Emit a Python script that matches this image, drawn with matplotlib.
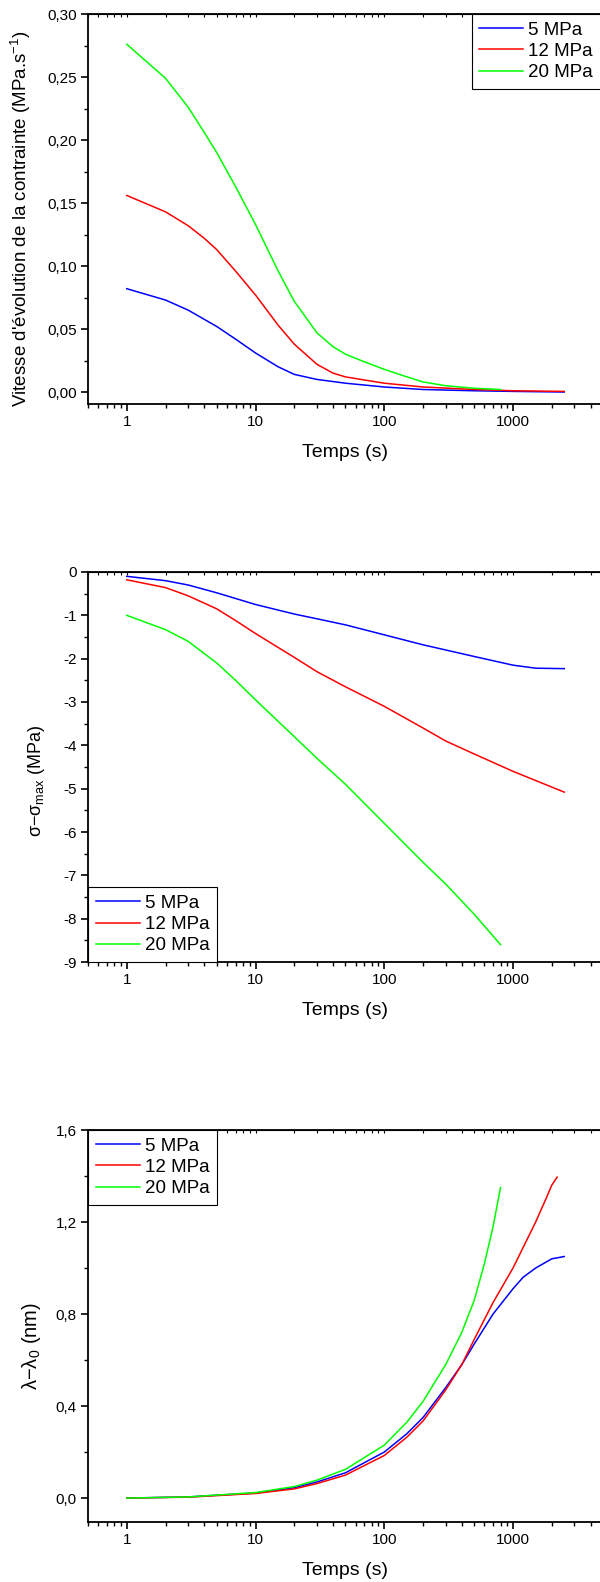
import matplotlib
matplotlib.use("Agg")
import matplotlib.pyplot as plt
from matplotlib.ticker import MultipleLocator, FuncFormatter, NullFormatter, LogLocator

plt.rcParams['font.family'] = ['Liberation Sans', 'DejaVu Sans']
plt.rcParams['axes.unicode_minus'] = False
plt.rcParams['mathtext.fontset'] = 'custom'
plt.rcParams['mathtext.rm'] = 'Liberation Sans'
plt.rcParams['mathtext.it'] = 'Liberation Sans'

labels = ["5 MPa", "12 MPa", "20 MPa"]
colors = ["#0000ff", "#ff0000", "#00ff00"]

# --- panel 1 : vitesse d'evolution de la contrainte
t1_blue = [1, 2, 3, 5, 7, 10, 15, 20, 30, 50, 100, 200, 500, 1000, 2500]
v_blue = [0.082, 0.073, 0.065, 0.052, 0.042, 0.031, 0.020, 0.014, 0.010, 0.007,
          0.004, 0.002, 0.001, 0.0005, 0.0]
t1_red = [1, 2, 3, 4, 5, 7, 10, 15, 20, 30, 40, 50, 100, 200, 500, 1000, 2500]
v_red = [0.156, 0.143, 0.132, 0.122, 0.113, 0.096, 0.077, 0.053, 0.038, 0.022,
         0.015, 0.012, 0.007, 0.004, 0.002, 0.001, 0.0005]
t1_green = [1, 2, 3, 4, 5, 7, 10, 15, 20, 30, 40, 50, 70, 100, 150, 200, 300, 500, 800]
v_green = [0.276, 0.249, 0.226, 0.206, 0.190, 0.163, 0.133, 0.096, 0.072, 0.047,
           0.036, 0.030, 0.024, 0.018, 0.012, 0.008, 0.005, 0.003, 0.002]

# --- panel 2 : sigma - sigma_max
t2_blue = [1, 2, 3, 5, 10, 20, 30, 50, 100, 200, 500, 1000, 1500, 2500]
s_blue = [-0.1, -0.2, -0.3, -0.48, -0.75, -0.97, -1.08, -1.22, -1.45, -1.68,
          -1.95, -2.15, -2.22, -2.23]
t2_red = [1, 2, 3, 5, 7, 10, 20, 30, 50, 100, 200, 300, 500, 1000, 2500]
s_red = [-0.18, -0.36, -0.55, -0.85, -1.12, -1.42, -1.97, -2.3, -2.65, -3.1,
         -3.6, -3.9, -4.2, -4.6, -5.08]
t2_green = [1, 2, 3, 5, 7, 10, 20, 30, 50, 100, 200, 300, 500, 800]
s_green = [-1.0, -1.33, -1.6, -2.1, -2.5, -2.95, -3.8, -4.3, -4.9, -5.8,
           -6.7, -7.2, -7.9, -8.6]

# --- panel 3 : lambda - lambda_0
t3_blue = [1, 3, 10, 20, 30, 50, 100, 150, 200, 300, 400, 500, 700, 1000, 1200,
           1500, 2000, 2500]
l_blue = [0.0, 0.005, 0.022, 0.045, 0.07, 0.11, 0.2, 0.28, 0.35, 0.48, 0.58,
          0.67, 0.8, 0.91, 0.96, 1.0, 1.04, 1.05]
t3_red = [1, 3, 10, 20, 30, 50, 100, 150, 200, 300, 400, 500, 700, 1000, 1200,
          1500, 1800, 2000, 2200]
l_red = [0.0, 0.004, 0.02, 0.04, 0.063, 0.1, 0.185, 0.265, 0.335, 0.47, 0.58,
         0.69, 0.85, 1.0, 1.09, 1.2, 1.3, 1.36, 1.395]
t3_green = [1, 3, 10, 20, 30, 50, 100, 150, 200, 300, 400, 500, 600, 700, 800]
l_green = [0.0, 0.005, 0.024, 0.05, 0.078, 0.125, 0.23, 0.33, 0.42, 0.58, 0.72,
           0.86, 1.02, 1.18, 1.35]

W, H = 600, 1582
fig = plt.figure(figsize=(W / 100, H / 100), dpi=100)


def make_axes(top_px, bot_px):
    left, right = 88, 603
    return fig.add_axes([left / W, (H - bot_px) / H, (right - left) / W, (bot_px - top_px) / H])


def style(ax, ylim, major, minor, fmt):
    ax.set_xscale('log')
    ax.set_xlim(0.5, 5000)
    ax.set_ylim(*ylim)
    ax.yaxis.set_major_locator(MultipleLocator(major))
    ax.yaxis.set_minor_locator(MultipleLocator(minor))
    ax.yaxis.set_major_formatter(FuncFormatter(fmt))
    ax.xaxis.set_major_locator(LogLocator(base=10, numticks=10))
    ax.xaxis.set_minor_locator(LogLocator(base=10, subs=range(2, 10), numticks=10))
    ax.xaxis.set_major_formatter(FuncFormatter(lambda v, p: f"{v:g}"))
    ax.xaxis.set_minor_formatter(NullFormatter())
    ax.spines['right'].set_visible(False)
    for s in ['left', 'bottom', 'top']:
        ax.spines[s].set_linewidth(1.3)
    ax.tick_params(which='major', direction='out', length=5, width=1.2, labelsize=11, pad=3)
    ax.tick_params(which='minor', direction='out', length=3, width=1.0)
    top = ax.secondary_xaxis('top')
    top.xaxis.set_major_locator(LogLocator(base=10, numticks=10))
    top.xaxis.set_minor_locator(LogLocator(base=10, subs=range(2, 10), numticks=10))
    top.xaxis.set_major_formatter(NullFormatter())
    top.xaxis.set_minor_formatter(NullFormatter())
    top.tick_params(which='both', direction='in', length=2.5, width=0.8)
    ax.set_xlabel("Temps (s)", fontsize=14, labelpad=11)


def legend(ax, loc, anchor):
    leg = ax.legend(labels, loc=loc, bbox_to_anchor=anchor, borderaxespad=0,
                    fontsize=13.5, frameon=True, fancybox=False, framealpha=1,
                    handlelength=2.35, handletextpad=0.27, labelspacing=0.22,
                    borderpad=0.4)
    leg.get_frame().set_edgecolor('black')
    leg.get_frame().set_linewidth(0.8)


# panel 1
ax1 = make_axes(14, 404)
for t, v, c in zip([t1_blue, t1_red, t1_green], [v_blue, v_red, v_green], colors):
    ax1.plot(t, v, color=c, lw=1.1)
style(ax1, (-0.0095, 0.30), 0.05, 0.025, lambda v, p: f"{v:.2f}".replace('.', ','))
ax1.set_ylabel("Vitesse d'évolution de la contrainte (MPa.s$^{-1}$)", fontsize=13.5)
ax1.yaxis.set_label_coords(-0.107, 0.475)
legend(ax1, 'upper left', (0.745, 1.0))

# panel 2
ax2 = make_axes(572, 962)
for t, s, c in zip([t2_blue, t2_red, t2_green], [s_blue, s_red, s_green], colors):
    ax2.plot(t, s, color=c, lw=1.1)
style(ax2, (-9, 0), 1, 0.5, lambda v, p: f"{v:g}")
ax2.set_ylabel(r"σ−σ$_{max}$ (MPa)", fontsize=13)
ax2.yaxis.set_label_coords(-0.08, 0.464)
legend(ax2, 'lower left', (0.0, 0.0))

# panel 3
ax3 = make_axes(1130, 1522)
for t, l, c in zip([t3_blue, t3_red, t3_green], [l_blue, l_red, l_green], colors):
    ax3.plot(t, l, color=c, lw=1.1)
style(ax3, (-0.104, 1.6), 0.4, 0.2, lambda v, p: f"{v:.1f}".replace('.', ','))
ax3.set_ylabel(r"λ−λ$_0$ (nm)", fontsize=14.5)
ax3.yaxis.set_label_coords(-0.087, 0.45)
legend(ax3, 'upper left', (0.0, 1.0))

fig.savefig("out.png", dpi=100)
